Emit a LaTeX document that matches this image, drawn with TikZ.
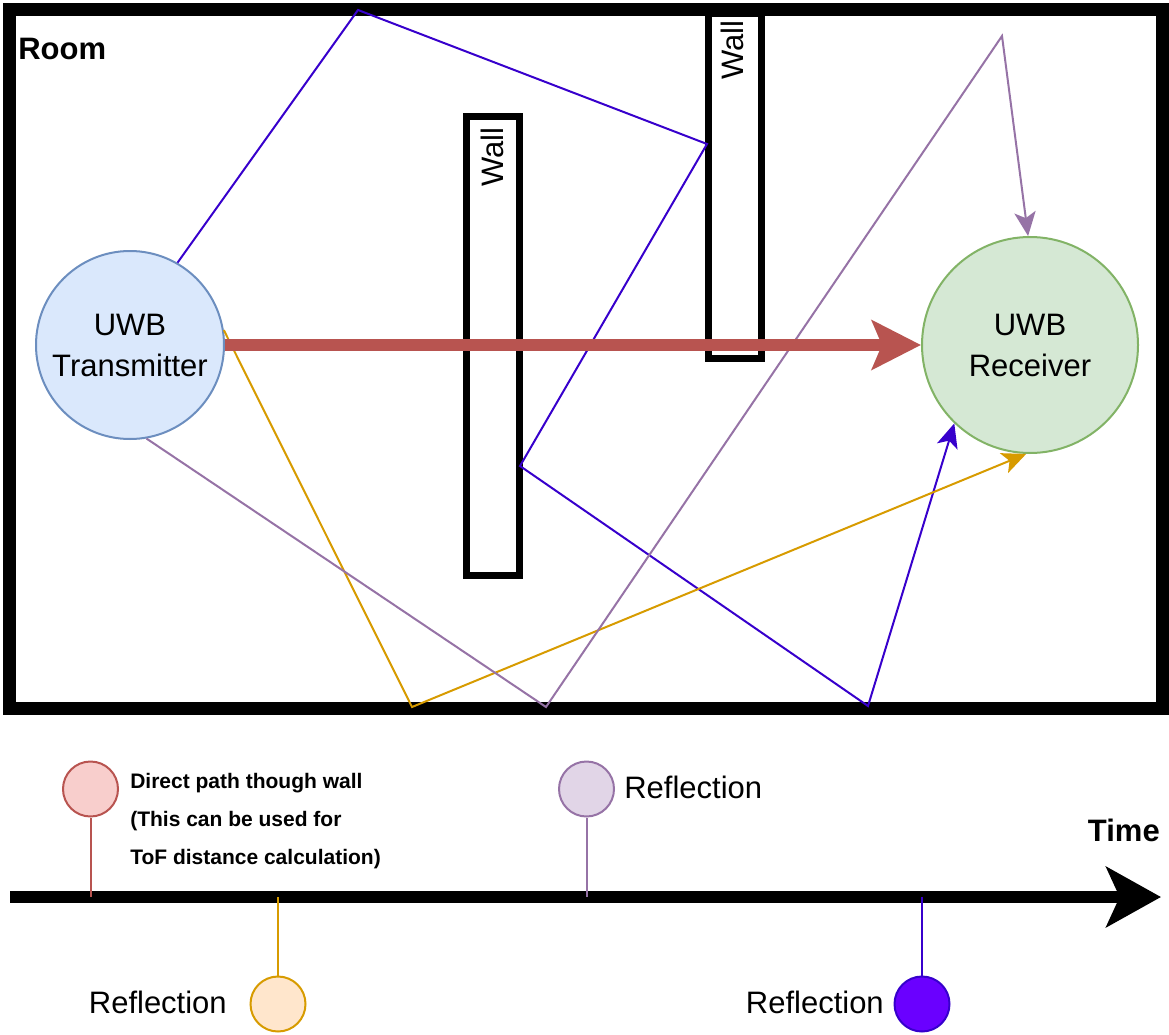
\documentclass[tikz,border=0pt]{standalone}
\usepackage{fontspec}
\setmainfont{Liberation Sans}
\usetikzlibrary{arrows.meta}

\definecolor{txfill}{HTML}{DAE8FC}
\definecolor{txline}{HTML}{6C8EBF}
\definecolor{rxfill}{HTML}{D5E8D4}
\definecolor{rxline}{HTML}{82B366}
\definecolor{redline}{HTML}{B85450}
\definecolor{redfill}{HTML}{F8CECC}
\definecolor{orangeline}{HTML}{D79B00}
\definecolor{orangefill}{HTML}{FFE6CC}
\definecolor{purpleline}{HTML}{9673A6}
\definecolor{purplefill}{HTML}{E1D5E7}
\definecolor{blueline}{HTML}{3700CC}
\definecolor{bluefill}{HTML}{6A00FF}

\begin{document}
\begin{tikzpicture}[x=0.75pt,y=-0.75pt,
  bigfont/.style={font=\fontsize{23.25}{30.75}\selectfont},
  smallbold/.style={font=\bfseries\fontsize{15.75}{20}\selectfont},
  device/.style={circle, line width=1.5pt, inner sep=0pt, align=center, bigfont},
  wallbox/.style={draw=black, line width=5.25pt, fill=white},
  walllabel/.style={rotate=90, anchor=east, inner sep=0pt, bigfont},
  ray/.style={line width=1.5pt, line join=miter},
  raytip/.style={-{Stealth[length=18pt,width=16pt,inset=4.5pt]}},
  pin/.style={circle, line width=1.5pt, minimum size=41.25pt, inner sep=0pt},
  stem/.style={line width=1.5pt},
  label/.style={inner sep=0pt, bigfont}
]
\useasboundingbox (0,0) rectangle (1169,1034);

% room outline
\draw[line width=9.75pt] (9.5,9.5) rectangle (1162,708);
\node[inner sep=0pt, anchor=base west, font=\bfseries\fontsize{23.25}{28}\selectfont] (roomlabel) at (18,60) {Room};

% walls
\draw[wallbox] (466,117) rectangle (519,575);
\draw[wallbox] (708,14) rectangle (761,358);
\node[walllabel] (walla) at (492,127) {Wall};
\node[walllabel] (wallb) at (732,20) {Wall};

% transmitter and receiver
\node[device, draw=txline, fill=txfill, minimum size=141pt] (tx) at (130,345) {UWB\\Transmitter};
\node[device, draw=rxline, fill=rxfill, minimum size=162pt] (rx) at (1030,345) {UWB\\Receiver};

% reflection points
\coordinate (b1) at (358,10);
\coordinate (b2) at (707,144);
\coordinate (b3) at (520,466);
\coordinate (b4) at (868,706);
\coordinate (o1) at (412,707);
\coordinate (p1) at (546,707);
\coordinate (p2) at (1002,36);

% reflected paths
\draw[ray, draw=blueline, raytip] (tx.60) -- (b1) -- (b2) -- (b3) -- (b4) -- (rx.226);
\draw[ray, draw=orangeline, raytip] (tx.9) -- (o1) -- (rx.268);
\draw[ray, draw=purpleline, raytip] (tx.280) -- (p1) -- (p2) -- (rx.91);

% direct path through the walls
\draw[draw=redline, line width=9pt,
  -{Stealth[length=36.75pt,width=36.75pt,inset=7.5pt]}] (tx.east) -- (rx.west);

% time axis
\coordinate (t0) at (10,897);
\coordinate (t1) at (1161,897);
\draw[line width=9pt, -{Stealth[length=41pt,width=45pt,inset=10pt]}] (t0) -- (t1);
\node[inner sep=0pt, anchor=base east, font=\bfseries\fontsize{23.25}{28}\selectfont] (timelabel) at (1160,841) {Time};

% arrival markers
\coordinate (s1) at (90.5,897);
\coordinate (s2) at (278,897);
\coordinate (s3) at (586.5,897);
\coordinate (s4) at (922,897);

\node[pin, draw=redline, fill=redfill] (m1) at (90.5,789) {};
\node[pin, draw=orangeline, fill=orangefill] (m2) at (278,1004) {};
\node[pin, draw=purpleline, fill=purplefill] (m3) at (586.5,789) {};
\node[pin, draw=blueline, fill=bluefill] (m4) at (922,1004) {};

\draw[stem, draw=redline] (m1) -- (s1);
\draw[stem, draw=orangeline] (m2) -- (s2);
\draw[stem, draw=purpleline] (m3) -- (s3);
\draw[stem, draw=blueline] (m4) -- (s4);

\node[inner sep=0pt, anchor=base west, smallbold] (d1) at (130,788) {Direct path though wall};
\node[inner sep=0pt, anchor=base west, smallbold] (d2) at (130,826) {(This can be used for};
\node[inner sep=0pt, anchor=base west, smallbold] (d3) at (130,864) {ToF distance calculation)};

\node[label, anchor=base east] (r2) at (227,1013) {Reflection};
\node[label, anchor=base west] (r3) at (624,798) {Reflection};
\node[label, anchor=base east] (r4) at (884,1013) {Reflection};
\end{tikzpicture}
\end{document}
